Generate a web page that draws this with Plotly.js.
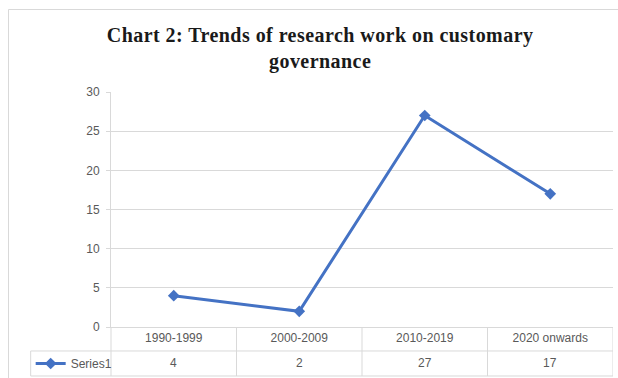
<!DOCTYPE html>
<html>
<head>
<meta charset="utf-8">
<script src="https://cdn.plot.ly/plotly-3.0.1.min.js"></script>
<style>
  html, body { margin: 0; padding: 0; background: #fff; }
  #chart { width: 618px; height: 378px; }
</style>
</head>
<body>
<div id="chart"></div>
<script>
// Decades and the number of research works published in each
const periods = ['1990-1999', '2000-2009', '2010-2019', '2020 onwards'];
const works = [4, 2, 27, 17];
const seriesName = 'Series1';
const yTicks = [0, 5, 10, 15, 20, 25, 30];

const grey = '#d9d9d9';
const textGrey = '#595959';
const blue = '#4472C4';
const tickFont = { family: '"Liberation Sans", Arial, sans-serif', size: 12, color: textGrey };

// Data-table geometry below the plot (paper units)
const rowMid = -0.102;     // line between label row and value row
const rowBottom = -0.2085; // bottom edge of the table
const legendLeft = -0.16;  // left edge of the series-name cell

const trace = {
  x: periods,
  y: works,
  name: seriesName,
  type: 'scatter',
  mode: 'lines+markers',
  line: { color: blue, width: 3 },
  marker: { symbol: 'diamond', size: 9, color: blue },
  showlegend: true,
  hoverinfo: 'x+y'
};

const shapes = [];
const line = { color: grey, width: 1 };
// outer chart frame
shapes.push({ type: 'rect', xref: 'paper', yref: 'paper', x0: -0.2042, x1: 1.02, y0: -0.35, y1: 1.351, line: line });
// horizontal rules of the table
shapes.push({ type: 'line', xref: 'paper', yref: 'paper', x0: legendLeft, x1: 1, y0: rowMid, y1: rowMid, line: line });
shapes.push({ type: 'line', xref: 'paper', yref: 'paper', x0: legendLeft, x1: 1, y0: rowBottom, y1: rowBottom, line: line });
// left edge of the series-name cell
shapes.push({ type: 'line', xref: 'paper', yref: 'paper', x0: legendLeft, x1: legendLeft, y0: rowBottom, y1: rowMid, line: line });
// value-axis line continued down through the table
shapes.push({ type: 'line', xref: 'paper', yref: 'paper', x0: 0, x1: 0, y0: rowBottom, y1: 0, line: line });
// column dividers between categories
for (let i = 1; i <= periods.length; i++) {
  shapes.push({ type: 'line', xref: 'x', yref: 'paper', x0: i - 0.5, x1: i - 0.5, y0: rowBottom, y1: 0, line: line });
}

// values written in the table row
const annotations = periods.map((p, i) => ({
  x: p, xref: 'x', y: (rowMid + rowBottom) / 2, yref: 'paper',
  text: String(works[i]), showarrow: false, font: tickFont,
  xanchor: 'center', yanchor: 'middle'
}));

const layout = {
  width: 618,
  height: 378,
  margin: { l: 111, r: 5, t: 92, b: 51, autoexpand: false },
  paper_bgcolor: '#ffffff',
  plot_bgcolor: '#ffffff',
  title: {
    text: 'Chart 2: Trends of research work on customary<br>governance',
    font: { family: '"Liberation Serif", "Times New Roman", serif', size: 20, color: '#1a1a1a', weight: 'bold' },
    xref: 'container', x: 0.518, xanchor: 'center',
    yref: 'container', y: 1 - 42 / 378, yanchor: 'top'
  },
  xaxis: {
    type: 'category',
    range: [-0.5, periods.length - 0.5],
    showgrid: false,
    zeroline: false,
    showline: true,
    linecolor: grey,
    linewidth: 1,
    ticks: '',
    tickfont: tickFont,
    fixedrange: true
  },
  yaxis: {
    range: [0, 30],
    tickvals: yTicks,
    showgrid: true,
    gridcolor: grey,
    gridwidth: 1,
    zeroline: false,
    showline: true,
    linecolor: grey,
    ticks: 'outside',
    ticklen: 4,
    tickcolor: grey,
    tickfont: tickFont,
    ticklabelstandoff: 4,
    fixedrange: true
  },
  legend: {
    xref: 'paper', yref: 'paper',
    x: legendLeft, xanchor: 'left',
    y: (rowMid + rowBottom) / 2, yanchor: 'middle',
    bgcolor: 'rgba(0,0,0,0)',
    borderwidth: 0,
    font: tickFont,
    tracegroupgap: 0
  },
  shapes: shapes,
  annotations: annotations,
  hovermode: 'closest'
};

Plotly.newPlot('chart', [trace], layout, { displayModeBar: false, responsive: false }).then(function (gd) {
  // slightly looser tracking on the heading
  gd.querySelectorAll('.gtitle').forEach(function (t) { t.style.letterSpacing = '0.45px'; });
});
</script>
</body>
</html>
